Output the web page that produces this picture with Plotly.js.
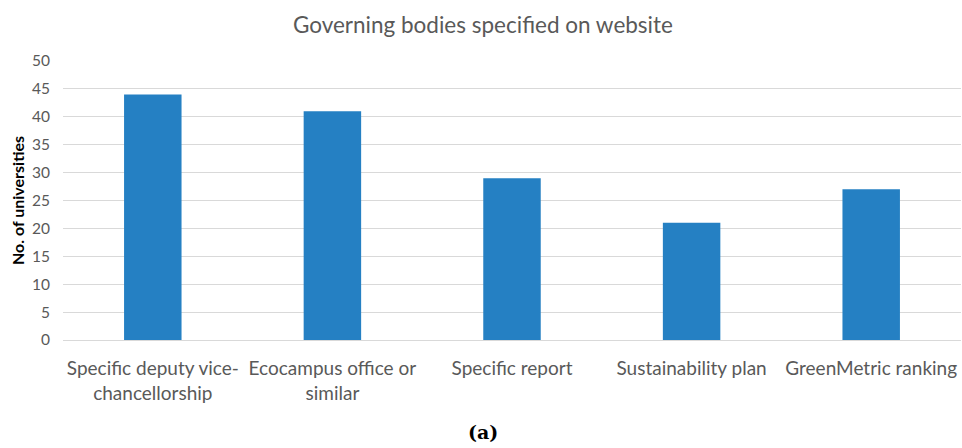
<!DOCTYPE html>
<html>
<head>
<meta charset="utf-8">
<script src="https://cdn.plot.ly/plotly-3.0.1.min.js"></script>
<style>html,body{margin:0;padding:0;background:#fff;}#chart{width:962px;height:448px;}</style>
</head>
<body>
<div id="chart"></div>
<script>
var categories = ["Specific deputy vice-<br>chancellorship", "Ecocampus office or<br>similar", "Specific report", "Sustainability plan", "GreenMetric ranking"];
var values = [44, 41, 29, 21, 27];
var yTicks = [0, 5, 10, 15, 20, 25, 30, 35, 40, 45, 50];

var trace = {
  type: "bar",
  x: categories,
  y: values,
  marker: {color: "#2580c3"},
  width: 0.32,
  hoverinfo: "x+y"
};

var layout = {
  width: 962, height: 448,
  margin: {l: 63, r: 1, t: 61, b: 108},
  paper_bgcolor: "#fff", plot_bgcolor: "#fff",
  showlegend: false,
  font: {family: "Lato, 'Open Sans', sans-serif", color: "#595959"},
  title: {text: "Governing bodies specified on website", x: 0.502, xanchor: "center", y: 0.945, yanchor: "middle",
          font: {size: 22.5, color: "#595959", family: "Lato, 'Open Sans', sans-serif"}},
  xaxis: {
    tickfont: {size: 19, color: "#595959"},
    showgrid: false, showline: false, zeroline: false,
    ticks: "", ticklabelstandoff: 15
  },
  yaxis: {
    range: [0, 50], tickvals: yTicks, ticktext: yTicks.map(String),
    showgrid: true, gridcolor: "#d9d9d9", gridwidth: 1,
    zeroline: true, zerolinecolor: "#d9d9d9", zerolinewidth: 1,
    showline: false, ticks: "",
    tickfont: {size: 15.5, color: "#595959"},
    ticklabelstandoff: 12,
    title: {text: "<b>No. of universities</b>", standoff: 3, font: {size: 16, color: "#000"}}
  },
  annotations: [{
    text: "<b>(a)</b>", xref: "paper", yref: "paper", x: 0.468, y: -0.33,
    xanchor: "center", yanchor: "middle", showarrow: false,
    font: {size: 19, color: "#000", family: "'DejaVu Serif', 'Liberation Serif', serif"}
  }]
};

Plotly.newPlot("chart", [trace], layout, {displayModeBar: false, staticPlot: true});
</script>
</body>
</html>
